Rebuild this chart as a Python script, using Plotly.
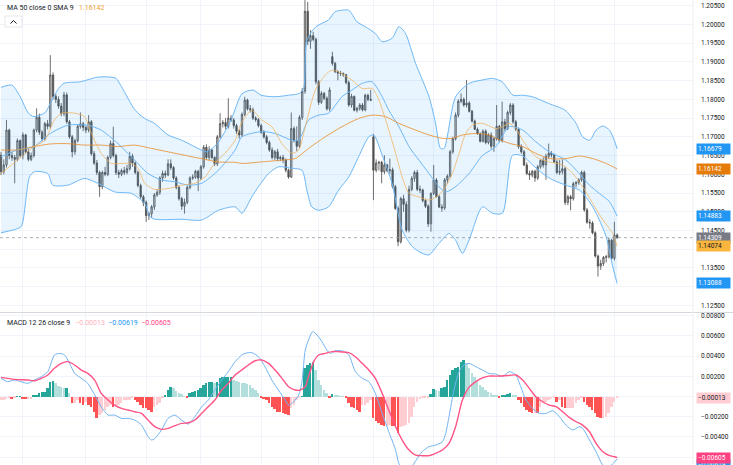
import plotly.graph_objects as go

# ---------------- price data (units of 0.0001) ----------------
open_p = [11651,11607,11625,11718,11650,11645,11640,11690,11650,11705,
11660,11640,11650,11718,11752,11712,11695,11735,11728,11865,
11808,11800,11782,11762,11812,11740,11700,11660,11690,11728,
11735,11725,11718,11740,11655,11630,11605,11567,11605,11600,
11645,11682,11650,11605,11600,11610,11605,11615,11648,11630,
11605,11570,11540,11525,11490,11495,11513,11545,11552,11590,
11602,11598,11628,11618,11590,11565,11535,11515,11525,11565,
11590,11592,11608,11590,11620,11672,11645,11665,11645,11628,
11700,11735,11738,11728,11750,11745,11730,11715,11705,11760,
11798,11775,11772,11750,11746,11730,11712,11700,11685,11665,
11645,11660,11642,11645,11638,11611,11593,11722,11690,11675,
11752,11822,12035,11955,11970,11960,11847,11792,11816,11803,
11775,11914,11896,11874,11870,11869,11866,11845,11785,11808,
11771,11776,11785,11772,11811,11800,11700,11611,11630,11632,
11607,11625,11610,11612,11567,11509,11420,11535,11520,11451,
11560,11589,11605,11560,11558,11530,11515,11468,11549,11585,
11540,11513,11510,11585,11595,11660,11695,11758,11795,11800,
11785,11790,11768,11742,11720,11708,11688,11715,11685,11705,
11675,11695,11728,11690,11740,11722,11765,11785,11740,11720,
11674,11660,11625,11602,11598,11608,11590,11620,11637,11625,
11648,11656,11652,11633,11605,11608,11615,11525,11540,11535,
11575,11578,11585,11605,11505,11472,11470,11444,11382,11355,
11362,11378,11380,11424,11376,11438]
high_p = [11660,11640,11745,11722,11660,11652,11696,11693,11712,11708,
11668,11658,11722,11776,11762,11718,11740,11745,11918,11872,
11815,11808,11790,11820,11818,11745,11705,11695,11732,11765,
11740,11730,11758,11745,11662,11638,11610,11610,11620,11650,
11690,11727,11655,11612,11615,11620,11625,11660,11655,11635,
11610,11575,11545,11530,11500,11518,11550,11560,11595,11610,
11610,11640,11640,11622,11595,11570,11540,11535,11570,11595,
11600,11612,11612,11625,11678,11680,11675,11668,11648,11705,
11763,11745,11750,11803,11758,11750,11735,11720,11765,11807,
11802,11785,11778,11755,11750,11735,11718,11705,11690,11672,
11665,11668,11650,11652,11642,11615,11765,11728,11728,11758,
11830,12065,12060,11985,11980,11965,11852,11822,11820,11808,
11832,11927,11900,11878,11876,11872,11868,11850,11815,11810,
11780,11790,11790,11815,11815,11825,11708,11640,11636,11636,
11651,11628,11642,11618,11572,11515,11540,11545,11528,11570,
11595,11610,11612,11570,11562,11535,11520,11552,11625,11590,
11545,11520,11590,11600,11665,11700,11765,11800,11816,11805,
11852,11795,11772,11746,11725,11712,11720,11720,11710,11712,
11700,11785,11732,11794,11748,11770,11790,11790,11745,11725,
11680,11665,11632,11610,11612,11612,11625,11640,11645,11655,
11682,11662,11655,11638,11638,11640,11620,11545,11545,11580,
11582,11590,11610,11610,11510,11480,11475,11448,11386,11372,
11382,11385,11430,11428,11473,11442]
low_p = [11598,11600,11618,11640,11636,11576,11635,11645,11640,11655,
11635,11635,11645,11712,11705,11688,11690,11720,11722,11800,
11790,11775,11755,11755,11735,11695,11645,11652,11685,11722,
11715,11710,11712,11650,11625,11598,11540,11560,11595,11595,
11640,11645,11598,11590,11595,11598,11600,11610,11620,11600,
11565,11535,11515,11473,11478,11485,11505,11540,11545,11580,
11590,11595,11612,11585,11560,11530,11505,11495,11520,11560,
11585,11588,11555,11585,11615,11640,11638,11640,11622,11622,
11695,11725,11720,11722,11740,11722,11708,11695,11700,11755,
11770,11765,11745,11740,11725,11708,11695,11680,11660,11640,
11638,11635,11635,11630,11605,11588,11590,11685,11662,11670,
11745,11815,11945,11935,11955,11840,11785,11788,11798,11770,
11768,11890,11870,11851,11862,11860,11840,11780,11778,11768,
11765,11770,11768,11768,11795,11795,11531,11605,11610,11576,
11600,11605,11600,11562,11505,11408,11415,11500,11445,11445,
11555,11580,11555,11550,11525,11510,11460,11447,11545,11538,
11510,11500,11505,11575,11590,11655,11690,11752,11790,11780,
11778,11765,11738,11718,11705,11685,11685,11680,11680,11668,
11660,11690,11685,11685,11715,11718,11758,11735,11715,11668,
11655,11622,11598,11585,11592,11580,11585,11615,11618,11585,
11642,11645,11630,11600,11598,11600,11518,11518,11504,11530,
11565,11572,11580,11500,11468,11455,11440,11378,11327,11345,
11355,11365,11375,11372,11370,11428]
close_p = [11607,11625,11718,11650,11645,11640,11690,11650,11705,11660,
11640,11650,11718,11752,11712,11695,11735,11728,11865,11808,
11800,11782,11762,11812,11740,11700,11660,11690,11728,11735,
11725,11718,11740,11655,11630,11605,11567,11605,11600,11645,
11682,11650,11605,11600,11610,11605,11615,11648,11630,11605,
11570,11540,11525,11490,11495,11513,11545,11552,11590,11602,
11598,11628,11618,11590,11565,11535,11515,11525,11565,11590,
11592,11608,11590,11620,11672,11645,11665,11645,11628,11700,
11735,11738,11728,11750,11745,11730,11715,11705,11760,11798,
11775,11772,11750,11746,11730,11712,11700,11685,11665,11645,
11660,11642,11645,11638,11611,11593,11722,11690,11675,11752,
11822,12035,11955,11970,11960,11847,11792,11816,11803,11775,
11825,11896,11874,11870,11869,11866,11845,11785,11808,11771,
11776,11785,11772,11811,11800,11798,11611,11630,11632,11607,
11625,11610,11612,11567,11509,11420,11535,11520,11451,11560,
11589,11605,11560,11558,11530,11515,11468,11549,11585,11540,
11513,11510,11585,11595,11660,11695,11758,11795,11800,11785,
11790,11768,11742,11720,11708,11688,11715,11685,11705,11675,
11695,11728,11690,11740,11722,11765,11785,11740,11720,11674,
11660,11625,11602,11598,11608,11590,11620,11637,11625,11648,
11656,11652,11633,11605,11608,11615,11525,11540,11535,11575,
11578,11585,11605,11505,11472,11470,11444,11382,11355,11362,
11378,11380,11424,11376,11438,11430.9]

# ---------------- indicator lines (bar index, value 0.0001) ----------------
bb_upper_i = [0,4,7,10,12,16,18,21,23,29,35,39,42,44,49,52.5,56,61,66,72,75,79,84,88,92,95,100,105,109,110.5,111.7,115,119.6,122,124.5,127,130,133,136.7,139.2,142.8,145.3,147.7,151.4,156.3,158.7,160.5,161.8,166,171,176,179.5,183,187,190.5,194,200,206,210,212.4,215,217.3,219.8,222.2,224,225]
bb_upper_v = [11832,11838,11807,11763,11754,11764,11789,11829,11843,11847,11859,11860,11856,11834,11771,11749,11736,11705,11691,11669,11660,11682,11745,11815,11825,11811,11807,11811,11816,11829,11958,11994,12012,12034,12038,12038,12007,11994,11976,11954,11963,11994,11976,11896,11807,11736,11669,11669,11807,11843,11852,11856,11847,11811,11811,11807,11789,11771,11736,11700,11691,11718,11729,11718,11690,11667.9]
bb_mid_i = [0,6,12,18,24.4,31.7,36.6,42.7,48.8,53.7,58.6,63.5,68.4,73.3,79.4,85.5,88,95.2,100.1,106.2,108.7,112.3,116,119.6,124.5,128.2,131.9,135.5,139.2,141.6,145.3,149,152.6,156.3,159.9,162.4,166,170.9,175.8,180.7,185.6,190.5,195.3,200.2,206.3,211.2,214.9,218.5,222.2,225]
bb_mid_v = [11647,11665,11674,11709,11731,11731,11718,11682,11638,11602,11585,11580,11571,11576,11611,11665,11700,11714,11709,11691,11691,11745,11758,11763,11807,11825,11843,11847,11807,11771,11727,11674,11638,11602,11567,11553,11567,11602,11650,11674,11727,11718,11687,11660,11638,11602,11571,11549,11527,11488.3]
bb_lower_i = [0,7.3,8.3,9.2,10.4,12.2,17.1,18.9,24.4,30.5,35.4,41.5,47.6,52.5,54.3,56.2,66,73.3,79.4,85.5,88,91.6,94,97.7,101.3,106.2,109.9,111.7,113.5,116,119.6,123.3,127,130.6,134.3,136.1,139.2,142.8,146.5,150.2,153.8,156.3,159.9,163.6,166,168.5,170.9,175.8,179.5,183.1,186.8,190.5,194.1,197.8,201.5,206.3,211.2,213,216.1,218.5,221,223.4,225]
bb_lower_v = [11444,11460,11487,11540,11593,11607,11602,11571,11571,11589,11576,11553,11549,11522,11487,11480,11480,11478,11504,11513,11496,11540,11567,11602,11620,11616,11611,11558,11513,11504,11513,11558,11593,11647,11700,11705,11651,11576,11451,11407,11389,11385,11415,11442,11424,11389,11424,11513,11496,11496,11651,11649,11625,11602,11585,11571,11558,11545,11513,11478,11433,11353,11308.8]
ma50_i = [0,6,12,18,24,30.5,36.6,42.7,48.8,55,61,67,73,79.4,85.5,88,95,102.6,107.4,112.3,118.4,124.5,130.6,135.5,140.4,145.3,151.4,156.3,161.2,164.8,168.5,173.4,178.2,181,186,190.5,195.3,200.2,206.3,211.2,216.1,221,225]
ma50_v = [11665,11665,11674,11681,11682,11678,11678,11674,11678,11669,11660,11651,11642,11633,11632,11629,11633,11638,11642,11669,11700,11727,11749,11758,11754,11736,11718,11705,11696,11696,11705,11709,11705,11695,11682,11674,11656,11642,11642,11649,11642,11629,11614.2]
fast_i = [0,6,12,16,19.5,22,27,30.5,33,36.6,40.3,44,47.6,50,52.5,56,61,66,70.8,74.5,78,81.8,85.5,88,91.6,95.2,98.9,102.6,106.2,108.7,111.1,114.8,118.4,120.9,124.5,128.2,131.9,135.5,138,141.6,144.1,146.5,149,152.6,156.3,159.9,162.4,164.8,167.3,169.7,172.1,175.8,180.7,183.1,185.6,188,190.5,195.3,200.2,205.1,208.8,212.4,216.1,219.8,223.4,225]
fast_v = [11602,11638,11674,11691,11745,11763,11763,11754,11709,11656,11629,11629,11629,11616,11576,11560,11562,11571,11576,11593,11629,11656,11691,11740,11771,11745,11727,11682,11656,11665,11727,11825,11865,11878,11869,11851,11829,11829,11798,11718,11656,11593,11549,11540,11531,11545,11567,11602,11656,11709,11731,11736,11722,11727,11736,11722,11691,11647,11633,11625,11602,11567,11522,11478,11442,11407.4]

# ---------------- MACD (units of 0.00001) ----------------
macd_i = [0,2.4,4.9,7.3,9.8,12.2,14.7,17.1,19.5,21.4,23.2,24.4,25.6,26.9,29.3,31.7,34.2,36.6,39.1,41.5,44,46.4,48.8,51.3,53.7,54.9,56.2,58.6,61,63.5,65.9,68.4,70.8,73.3,75.7,78.1,80.6,83,85.5,87.9,89.1,91.6,94,96.4,98.9,101.3,103.8,105,106.2,107.4,108.7,109.9,111.1,112.3,113.8,115.4,117.2,119,120.3,122.1,124.5,127,129.4,131.9,134.3,136.7,139.2,141.6,144.1,145.3,147,149,150.8,153.8,156.3,158.7,161.2,162.4,163.6,165.4,167.3,169.1,170.9,173.4,175.8,178.2,180.7,183.1,185.6,188,189.8,191.7,194.1,196.6,199,201.4,203.9,206.3,208.8,211.2,212.4,214.9,217.3,219.8,222,224,225]
macd_v = [180,147,163,147,130,163,196,246,411,427,411,361,295,229,180,130,15,-101,-184,-184,-217,-217,-233,-283,-398,-431,-415,-332,-217,-184,-233,-273,-200,-101,-35,64,163,246,345,410,427,434,394,295,163,64,-35,-85,-68,-35,15,147,460,559,642,609,543,460,427,453,453,411,246,180,147,31,-167,-349,-530,-662,-720,-730,-662,-547,-497,-481,-448,-365,-200,64,246,312,328,295,262,229,222,196,246,213,97,-35,-118,-167,-167,-141,-200,-283,-332,-299,-316,-431,-547,-679,-700,-650,-619]
signal_i = [0,4.9,9.8,12.2,14.7,17.1,19.5,22,24.4,26.9,29.3,31.7,34.2,36.6,39.1,41.5,44,46.4,48.8,51.3,53.7,56.2,58.6,61,63.5,65.9,68.4,70.8,73.3,75.7,78.1,80.6,83,85.5,87.9,90.3,92.8,95.2,97.7,100.1,102.6,105,107.4,109.3,111.1,112.3,114.2,116,118.4,120.9,123.3,127,129.4,131.9,134.3,136.7,139.2,141.6,144.1,146.5,149,151.4,153.8,156.3,158.7,161.2,163.6,166,168.5,170.9,173.4,175.8,178.2,180.7,185.6,188,190.5,192.9,195.3,197.8,200.2,202.7,205.1,207.5,210,212.4,214.9,217.3,219.8,222.2,224,225]
signal_v = [189,170,163,156,180,213,279,328,345,312,262,229,163,31,-35,-85,-118,-134,-151,-167,-233,-299,-325,-316,-289,-266,-260,-233,-167,-101,-35,64,130,213,262,312,354,361,328,262,180,97,64,64,97,196,345,411,427,444,444,434,394,328,262,180,31,-134,-299,-431,-530,-580,-586,-586,-563,-530,-464,-299,-35,90,147,185,202,202,209,213,163,81,-2,-52,-85,-101,-151,-207,-250,-283,-349,-464,-547,-586,-596,-605]
hist = [-35,-30,-20,-19,-25,-10,5,5,-20,-28,
-28,-25,8,18,31,40,48,81,147,153,
130,104,90,81,81,31,-68,-68,-35,-60,
-85,-52,-80,-101,-151,-217,-184,-167,-134,-101,
-85,-101,-95,-85,-68,-35,-35,-35,-19,-35,
-52,-85,-110,-118,-134,-151,-101,-85,-68,-19,
15,64,90,81,58,31,20,5,-8,31,
48,55,64,81,114,137,147,147,137,147,
180,189,189,189,196,163,156,147,137,130,
124,110,81,60,38,-8,-20,-35,-68,-101,
-125,-151,-155,-165,-174,-184,-118,-85,-35,-5,
5,279,312,328,345,262,163,114,64,31,
-8,21,12,8,5,2,-19,-68,-101,-118,
-134,-151,-85,-85,-60,-35,-217,-245,-266,-283,
-292,-292,-283,-288,-292,-365,-299,-292,-280,-266,
-200,-101,-52,-28,-15,-12,-8,21,71,64,
58,80,97,163,213,262,280,295,345,361,
328,279,229,190,163,114,90,64,48,31,
15,8,-8,8,8,20,31,15,8,-35,
-68,-101,-134,-151,-160,-160,-167,-101,-68,-52,
-35,-28,-19,-52,-35,-101,-118,-118,-118,-110,
-68,-35,-19,-52,-85,-108,-134,-167,-200,-217,
-217,-200,-160,-101,-50,-13]

# ---------------- axis ticks ----------------
month_ticks = [8, 31, 53, 73, 95, 116, 136, 158, 181, 202, 224]
price_ticks = [1.125,1.130,1.135,1.140,1.145,1.150,1.155,1.160,1.165,1.170,1.175,1.180,1.185,1.190,1.195,1.200,1.205]
price_ticks_hidden = [1.130, 1.140]          # covered by the value boxes in the reference
macd_ticks = [-0.006,-0.004,-0.002,0.0,0.002,0.004,0.006,0.008]
macd_ticks_hidden = [-0.006, 0.0]

def to_price(v):
    return [x / 10000.0 for x in v]

def to_macd(v):
    return [x / 100000.0 for x in v]

def fmt_minus(v, nd=5):
    s = f"{v:.{nd}f}"
    return s.replace("-", "\u2212")

idx = list(range(len(close_p)))
FONT = "Roboto"
W, H = 733, 465
PLOT_W = 693

BB_LINE = "#6db8f6"
MA50_C = "rgba(232,140,40,0.8)"
FAST_C = "rgba(243,178,90,0.75)"

fig = go.Figure()

spl = dict(shape="spline", smoothing=0.7)
fig.add_trace(go.Scatter(x=bb_lower_i, y=to_price(bb_lower_v), mode="lines",
                         line=dict(color=BB_LINE, width=1, **spl), hoverinfo="skip"))
fig.add_trace(go.Scatter(x=bb_upper_i, y=to_price(bb_upper_v), mode="lines",
                         line=dict(color=BB_LINE, width=1, **spl), fill="tonexty",
                         fillcolor="rgba(33,150,243,0.1)", hoverinfo="skip"))
fig.add_trace(go.Scatter(x=bb_mid_i, y=to_price(bb_mid_v), mode="lines",
                         line=dict(color=BB_LINE, width=1, **spl), hoverinfo="skip"))
fig.add_trace(go.Scatter(x=ma50_i, y=to_price(ma50_v), mode="lines",
                         line=dict(color=MA50_C, width=1, **spl), hoverinfo="skip"))
fig.add_trace(go.Scatter(x=fast_i, y=to_price(fast_v), mode="lines",
                         line=dict(color=FAST_C, width=1, **spl), hoverinfo="skip"))

fig.add_trace(go.Candlestick(
    x=idx, open=to_price(open_p), high=to_price(high_p), low=to_price(low_p), close=to_price(close_p),
    increasing=dict(line=dict(color="#4a4a4a", width=0.8), fillcolor="#d8d8d8"),
    decreasing=dict(line=dict(color="#4a4a4a", width=0.8), fillcolor="#5a5a5a"),
    whiskerwidth=0, hoverinfo="skip", xaxis="x", yaxis="y"))

# MACD pane
hist_colors = []
for k, h in enumerate(hist):
    prev = hist[k - 1] if k > 0 else h
    if h >= 0:
        hist_colors.append("#26a69a" if h >= prev else "#b2dfdb")
    else:
        hist_colors.append("#ff5252" if h < prev else "#ffcdd2")

fig.add_trace(go.Bar(x=idx, y=to_macd(hist), marker=dict(color=hist_colors, line=dict(width=0)),
                     width=0.72, xaxis="x2", yaxis="y2", hoverinfo="skip"))
fig.add_trace(go.Scatter(x=macd_i, y=to_macd(macd_v), mode="lines", xaxis="x2", yaxis="y2",
                         line=dict(color="#72b4f2", width=1, **spl), hoverinfo="skip"))
fig.add_trace(go.Scatter(x=signal_i, y=to_macd(signal_v), mode="lines", xaxis="x2", yaxis="y2",
                         line=dict(color="#ff5486", width=1.4, **spl), hoverinfo="skip"))

price_top = 1.205 + 5.7 / 3747
price_bot = 1.205 - (312 - 5.7) / 3747
macd_top = (396.5 - 313) / 10100
macd_bot = (396.5 - 465) / 10100

xcommon = dict(range=[-0.37, 252.7], tickvals=month_ticks, showticklabels=False, showgrid=True,
               gridcolor="#f0f3fa", gridwidth=1, zeroline=False, showline=False, ticks="")
ycommon = dict(side="right", showgrid=True, gridcolor="#f0f3fa", gridwidth=1, zeroline=False,
               ticks="", showline=False, ticklabelstandoff=7,
               tickfont=dict(family=FONT, size=6.5, color="#131722"))

last_close = close_p[-1] / 10000.0
last_macd = macd_v[-1] / 100000.0
last_sig = signal_v[-1] / 100000.0
last_hist = hist[-1] / 100000.0

def tick_text(vals, hidden):
    out = []
    for v in vals:
        if any(abs(v - h) < 1e-9 for h in hidden):
            out.append("")
        else:
            out.append(fmt_minus(v))
    return out

fig.update_layout(
    width=W, height=H, margin=dict(l=0, r=W - PLOT_W, t=0, b=0),
    plot_bgcolor="white", paper_bgcolor="white", showlegend=False,
    bargap=0,
    xaxis=dict(domain=[0, 1], anchor="y", rangeslider=dict(visible=False), **xcommon),
    xaxis2=dict(domain=[0, 1], anchor="y2", matches="x", **xcommon),
    yaxis=dict(domain=[1 - 312 / H, 1], range=[price_bot, price_top], anchor="x",
               tickvals=price_ticks, ticktext=tick_text(price_ticks, price_ticks_hidden), **ycommon),
    yaxis2=dict(domain=[0, 1 - 313 / H], range=[macd_bot, macd_top], anchor="x2",
                tickvals=macd_ticks, ticktext=tick_text(macd_ticks, macd_ticks_hidden), **ycommon),
)

shapes = []
# last price dotted line
shapes.append(dict(type="line", xref="paper", yref="y", x0=0, x1=1, y0=last_close, y1=last_close,
                   line=dict(color="#9598a1", width=0.8, dash="dot")))
# pane separator and price scale border
shapes.append(dict(type="line", xref="paper", yref="paper", x0=0, x1=W / PLOT_W,
                   y0=1 - 312.5 / H, y1=1 - 312.5 / H, line=dict(color="#d6d8de", width=1)))
shapes.append(dict(type="line", xref="paper", yref="paper", x0=1, x1=1, y0=0, y1=1,
                   line=dict(color="#eceef2", width=1)))
# collapse button
bx0, bx1, by0, by1 = 5 / PLOT_W, 22 / PLOT_W, 1 - 27 / H, 1 - 16 / H
shapes.append(dict(type="rect", xref="paper", yref="paper", x0=bx0, x1=bx1, y0=by0, y1=by1,
                   line=dict(color="#dfe1e6", width=0.8), fillcolor="white"))
shapes.append(dict(type="path", xref="paper", yref="paper",
                   path=f"M {10.5/PLOT_W},{1-23.5/H} L {13.5/PLOT_W},{1-20.5/H} L {16.5/PLOT_W},{1-23.5/H}",
                   line=dict(color="#131722", width=1)))
fig.update_layout(shapes=shapes)

ann = []
def price_label(val, bg, fg, yref="y", yshift=0):
    txt = fmt_minus(val)
    ann.append(dict(x=696 / PLOT_W, xref="paper", y=val, yref=yref, xanchor="left", yanchor="middle",
                    text=txt, showarrow=False, bgcolor=bg, borderpad=1, width=31, align="left",
                    yshift=yshift, font=dict(family=FONT, size=6.5, color=fg)))

price_label(bb_upper_v[-1] / 10000.0, "#2196f3", "white")
price_label(ma50_v[-1] / 10000.0, "#e57b08", "white")
price_label(bb_mid_v[-1] / 10000.0, "#2196f3", "white")
price_label(last_close, "#787b86", "white")
price_label(fast_v[-1] / 10000.0, "#f9b53c", "#131722")
price_label(bb_lower_v[-1] / 10000.0, "#2196f3", "white")
price_label(last_macd, "#2196f3", "white", yref="y2", yshift=-6)
price_label(last_hist, "#ffcdd2", "#131722", yref="y2")
price_label(last_sig, "#ff4081", "white", yref="y2")

ann.append(dict(x=5 / PLOT_W, xref="paper", y=1 - 8 / H, yref="paper", xanchor="left", yanchor="middle",
                showarrow=False, align="left",
                text=f"MA 50 close 0 SMA 9 &nbsp;&nbsp;<span style='color:#f0a030'>{ma50_v[-1]/10000.0:.5f}</span>",
                font=dict(family=FONT, size=7, color="#131722")))
ann.append(dict(x=5 / PLOT_W, xref="paper", y=1 - 323 / H, yref="paper", xanchor="left", yanchor="middle",
                showarrow=False, align="left",
                text=("MACD 12 26 close 9 &nbsp;&nbsp;"
                      f"<span style='color:#ffb3bd'>{fmt_minus(last_hist)}</span> &nbsp;"
                      f"<span style='color:#2196f3'>{fmt_minus(last_macd)}</span> &nbsp;"
                      f"<span style='color:#ff4081'>{fmt_minus(last_sig)}</span>"),
                font=dict(family=FONT, size=7, color="#131722")))
fig.update_layout(annotations=ann)

fig.write_html("out.html")
